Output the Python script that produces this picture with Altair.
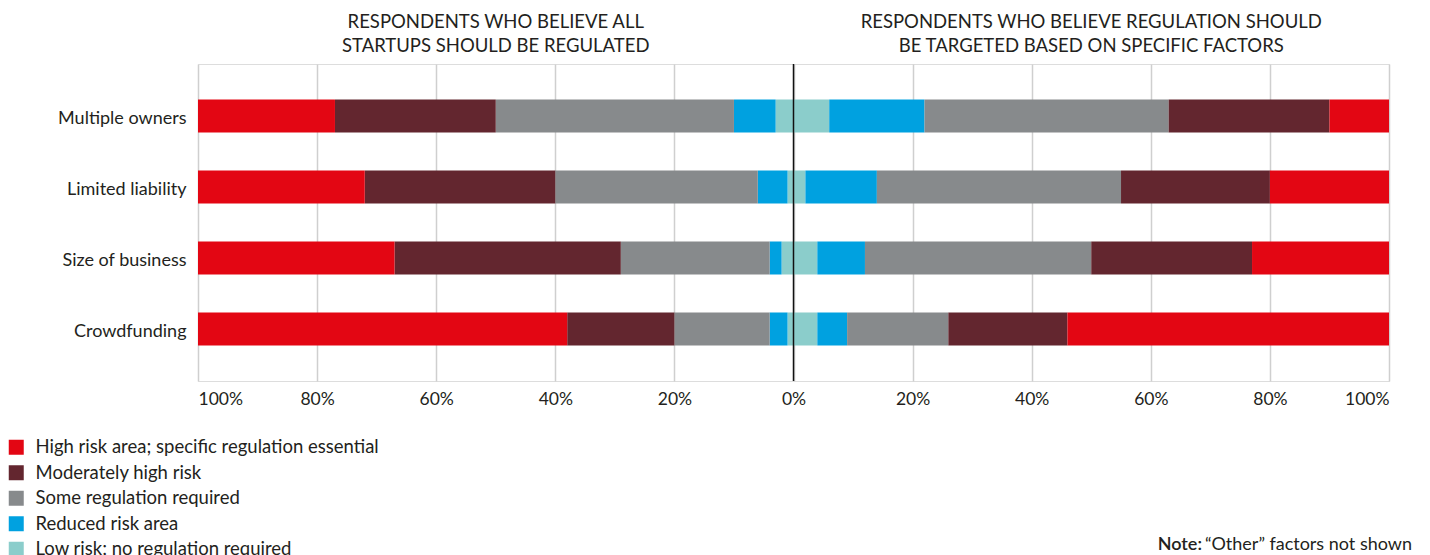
import altair as alt
import pandas as pd

categories = ["Multiple owners", "Limited liability", "Size of business", "Crowdfunding"]
levels = [
    "High risk area; specific regulation essential",
    "Moderately high risk",
    "Some regulation required",
    "Reduced risk area",
    "Low risk; no regulation required",
]
colors = ["#E30613", "#63262F", "#878A8C", "#00A1E0", "#8BCDCB"]

# Left: respondents who believe all startups should be regulated (%)
all_high = [23, 28, 33, 62]
all_mod = [27, 32, 38, 18]
all_some = [40, 34, 25, 16]
all_reduced = [7, 5, 2, 3]
all_low = [3, 1, 2, 1]

# Right: respondents who believe regulation should be targeted (%)
tgt_high = [10, 20, 23, 54]
tgt_mod = [27, 25, 27, 20]
tgt_some = [41, 41, 38, 17]
tgt_reduced = [16, 12, 8, 5]
tgt_low = [6, 2, 4, 4]

tick_values = [-100, -80, -60, -40, -20, 0, 20, 40, 60, 80, 100]
headers = ["RESPONDENTS WHO BELIEVE ALL\nSTARTUPS SHOULD BE REGULATED",
           "RESPONDENTS WHO BELIEVE REGULATION SHOULD\nBE TARGETED BASED ON SPECIFIC FACTORS"]

FONT = "Lato"
TXT = "#231F20"

rows = []
left = [all_high, all_mod, all_some, all_reduced, all_low]
right = [tgt_high, tgt_mod, tgt_some, tgt_reduced, tgt_low]
for i, cat in enumerate(categories):
    pos = 0.0
    for li in range(len(levels) - 1, -1, -1):
        v = left[li][i]
        rows.append({"category": cat, "level": levels[li], "start": -pos, "end": -(pos + v), "side": "all"})
        pos += v
    pos = 0.0
    for li in range(len(levels) - 1, -1, -1):
        v = right[li][i]
        rows.append({"category": cat, "level": levels[li], "start": pos, "end": pos + v, "side": "targeted"})
        pos += v
df = pd.DataFrame(rows)

x_scale = alt.Scale(domain=[-100, 100], nice=False, zero=False)
y_scale = alt.Scale(domain=categories, paddingInner=0.535, paddingOuter=0.5)

bars = alt.Chart(df).mark_bar().encode(
    x=alt.X("start:Q", scale=x_scale, title=None,
            axis=alt.Axis(values=tick_values, labelExpr="abs(datum.value) + '%'",
                          grid=True, gridColor="#CFCFCF", gridWidth=1.5,
                          domain=False, ticks=False, labelFontSize=17.5,
                          labelColor=TXT, labelPadding=9, labelFont=FONT)),
    x2="end:Q",
    y=alt.Y("category:N", scale=y_scale, sort=categories, title=None,
            axis=alt.Axis(domain=False, ticks=False, labelFontSize=18, labelColor=TXT,
                          labelPadding=12, labelFont=FONT, grid=False, labelOffset=3)),
    color=alt.Color("level:N", scale=alt.Scale(domain=levels, range=colors), title=None,
                    legend=alt.Legend(orient="none", legendX=-191, legendY=374,
                                      symbolType="square", symbolSize=225, symbolStrokeWidth=0,
                                      labelFontSize=18.5, labelFont=FONT, labelColor=TXT,
                                      labelOffset=10, rowPadding=6.5, labelLimit=600)),
)

zero = alt.Chart(pd.DataFrame({"x": [0]})).mark_rule(color="#111111", strokeWidth=1.5).encode(
    x=alt.X("x:Q", scale=x_scale)
)

head_df = pd.DataFrame({"x": [-50, 50], "text": headers})
head = alt.Chart(head_df).mark_text(
    fontSize=18.5, font=FONT, color=TXT, align="center", baseline="alphabetic",
    lineBreak="\n", lineHeight=24
).encode(x=alt.X("x:Q", scale=x_scale), y=alt.value(-36), text="text:N")

note_df = pd.DataFrame({"a": ["Note:"], "b": ["\u201cOther\u201d factors not shown"]})
note_bold = alt.Chart(note_df).mark_text(
    fontSize=18, font=FONT, color=TXT, align="right", baseline="alphabetic", fontWeight=600
).encode(x=alt.value(1004), y=alt.value(486), text="a:N")
note_rest = alt.Chart(note_df).mark_text(
    fontSize=18, font=FONT, color=TXT, align="right", baseline="alphabetic"
).encode(x=alt.value(1214), y=alt.value(486), text="b:N")

chart = alt.layer(bars, zero, head, note_bold, note_rest).properties(
    width=1191, height=317,
    autosize=alt.AutoSizeParams(type="none"),
    padding={"left": 190, "top": 56, "right": 33, "bottom": 174},
).configure_view(stroke=None).configure(font=FONT)

chart.save("out.html", embed_options={"renderer": "svg", "actions": False})
